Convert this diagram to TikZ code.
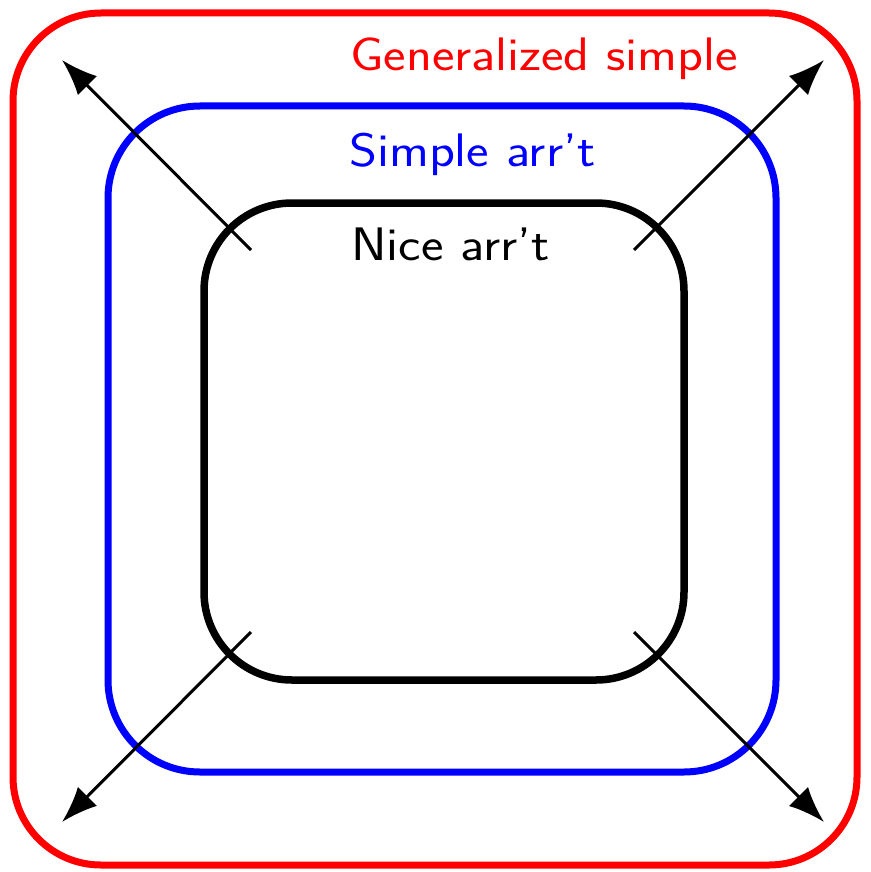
\documentclass[tikz,border=0pt]{standalone}
\usetikzlibrary{arrows.meta}
\begin{document}
\begin{tikzpicture}[x=1pt,y=-1pt,
  frame/.style={line width=7pt,rounded corners=#1},
  ray/.style={line width=3pt,-{Latex[length=36pt,width=27pt]}},
  lab/.style={anchor=base west,inner sep=0pt,font=\sffamily\fontsize{47}{56}\selectfont}]
\useasboundingbox (0,0) rectangle (870,872);
\draw[frame=88,red] (13,13) rectangle (857,865);
\draw[frame=92,blue] (108,106) rectangle (776,772);
\draw[frame=88,black,line width=7.5pt] (204,203) rectangle (684,680);
\coordinate (c1) at (251,250); \coordinate (t1) at (62,60);
\coordinate (c2) at (634,250); \coordinate (t2) at (824,60);
\coordinate (c3) at (251,632); \coordinate (t3) at (62,822);
\coordinate (c4) at (634,632); \coordinate (t4) at (824,822);
\draw[ray] (c1) -- (t1);
\draw[ray] (c2) -- (t2);
\draw[ray] (c3) -- (t3);
\draw[ray] (c4) -- (t4);
\node[lab,red] (g) at (350,71) {\scalebox{1.14}[1]{Generalized simple}};
\node[lab,blue] (s) at (349,166) {\scalebox{1.14}[1]{Simple arr't}};
\node[lab,black] (n) at (351,260) {\scalebox{1.14}[1]{Nice arr't}};
\end{tikzpicture}
\end{document}
